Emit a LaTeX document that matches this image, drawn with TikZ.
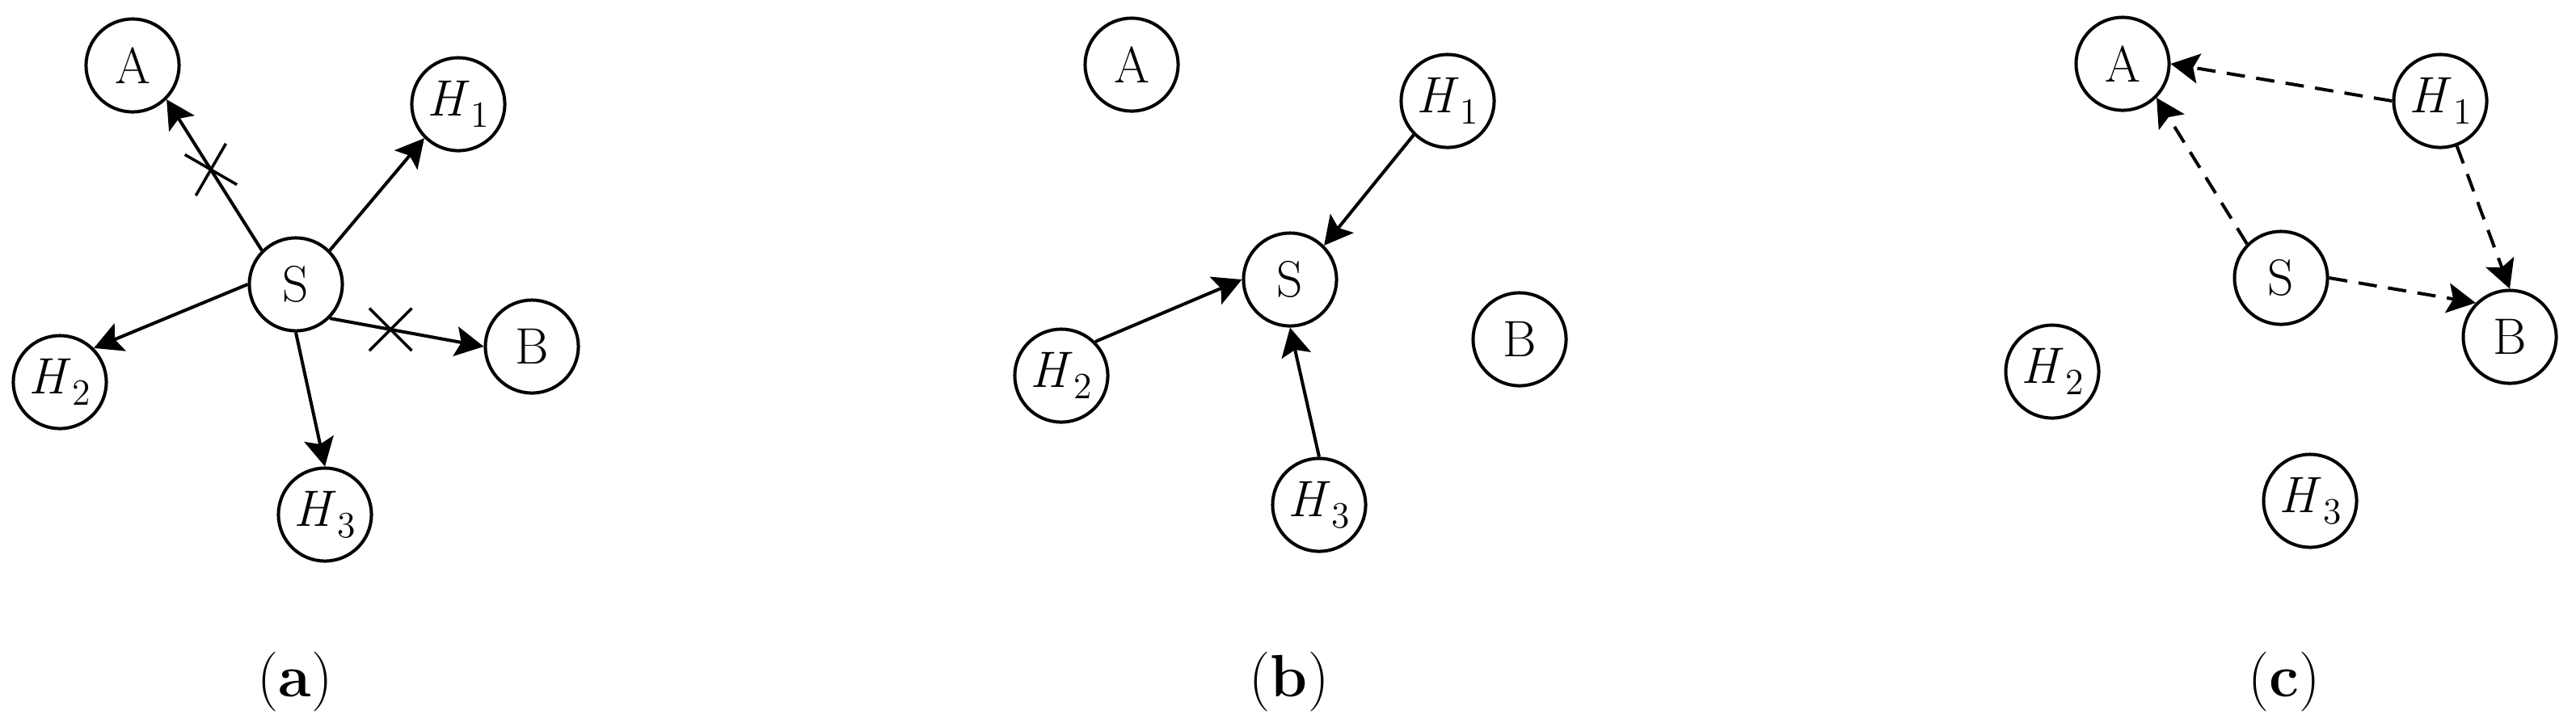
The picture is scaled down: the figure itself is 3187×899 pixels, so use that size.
\documentclass[tikz,border=0pt]{standalone}
\usepackage{fontspec}
\setmainfont{Latin Modern Roman}
\usetikzlibrary{arrows.meta,shapes.misc}
\newcommand{\Hn}[1]{\textit{H}\kern0.5pt\raisebox{-0.22em}{\fontsize{13}{14}\selectfont #1}}
\tikzset{
  vtx/.style={circle, draw, line width=1.14pt, minimum size=1.15cm, inner sep=0pt, font=\fontsize{18}{20}\selectfont},
  arr/.style={line width=1.14pt, -{Stealth[length=10pt,width=10.5pt,inset=2pt]}},
  darr/.style={arr, dash pattern=on 6.5pt off 4pt},
  xmark/.style={cross out, draw, line width=1pt, minimum size=0.49cm, inner sep=0pt},
  capt/.style={anchor=base, font=\fontsize{21}{24}\selectfont}
}
\begin{document}
\begin{tikzpicture}[x=0.01cm, y=-0.01cm]
\useasboundingbox (0,0) rectangle (3187,899);
% ---------- panel (a)
\node[vtx] (aA)  at (164,81)  {A};
\node[vtx] (aH1) at (567,129) {\Hn{1}};
\node[vtx] (aS)  at (366,352) {S};
\node[vtx] (aH2) at (74,473)  {\Hn{2}};
\node[vtx] (aB)  at (658,429) {B};
\node[vtx] (aH3) at (402,637) {\Hn{3}};
\draw[arr] (aS.north west) -- node[xmark, pos=0.535, rotate=15] (ax1) {} (aA.south east);
\draw[arr] (aS.north east) -- (aH1.south west);
\draw[arr] (aS.west) -- (aH2.north east);
\draw[arr] (aS.south east) -- node[xmark, pos=0.395] (ax2) {} (aB.west);
\draw[arr] (aS.south) -- (aH3.north);
\node[capt] (capa) at (365,862) {(\textbf{a})};
% ---------- panel (b)
\node[vtx] (bA)  at (1400,80)  {A};
\node[vtx] (bH1) at (1791,125) {\Hn{1}};
\node[vtx] (bS)  at (1596,346) {S};
\node[vtx] (bH2) at (1313,465) {\Hn{2}};
\node[vtx] (bB)  at (1880,420) {B};
\node[vtx] (bH3) at (1632,625) {\Hn{3}};
\draw[arr] (bH1.south west) -- (bS.north east);
\draw[arr] (bH2.north east) -- (bS.west);
\draw[arr] (bH3.north) -- (bS.south);
\node[capt] (capb) at (1595,862) {(\textbf{b})};
% ---------- panel (c)
\node[vtx] (cA)  at (2626,79)  {A};
\node[vtx] (cH1) at (3019,125) {\Hn{1}};
\node[vtx] (cS)  at (2822,344) {S};
\node[vtx] (cB)  at (3105,417) {B};
\node[vtx] (cH2) at (2539,460) {\Hn{2}};
\node[vtx] (cH3) at (2858,620) {\Hn{3}};
\draw[darr] (cH1.west) -- (cA.east);
\draw[darr] (cS.north west) -- (cA.south east);
\draw[darr] (cH1) -- (cB.north);
\draw[darr] (cS.east) -- (cB.north west);
\node[capt] (capc) at (2826,862) {(\textbf{c})};
\end{tikzpicture}
\end{document}
